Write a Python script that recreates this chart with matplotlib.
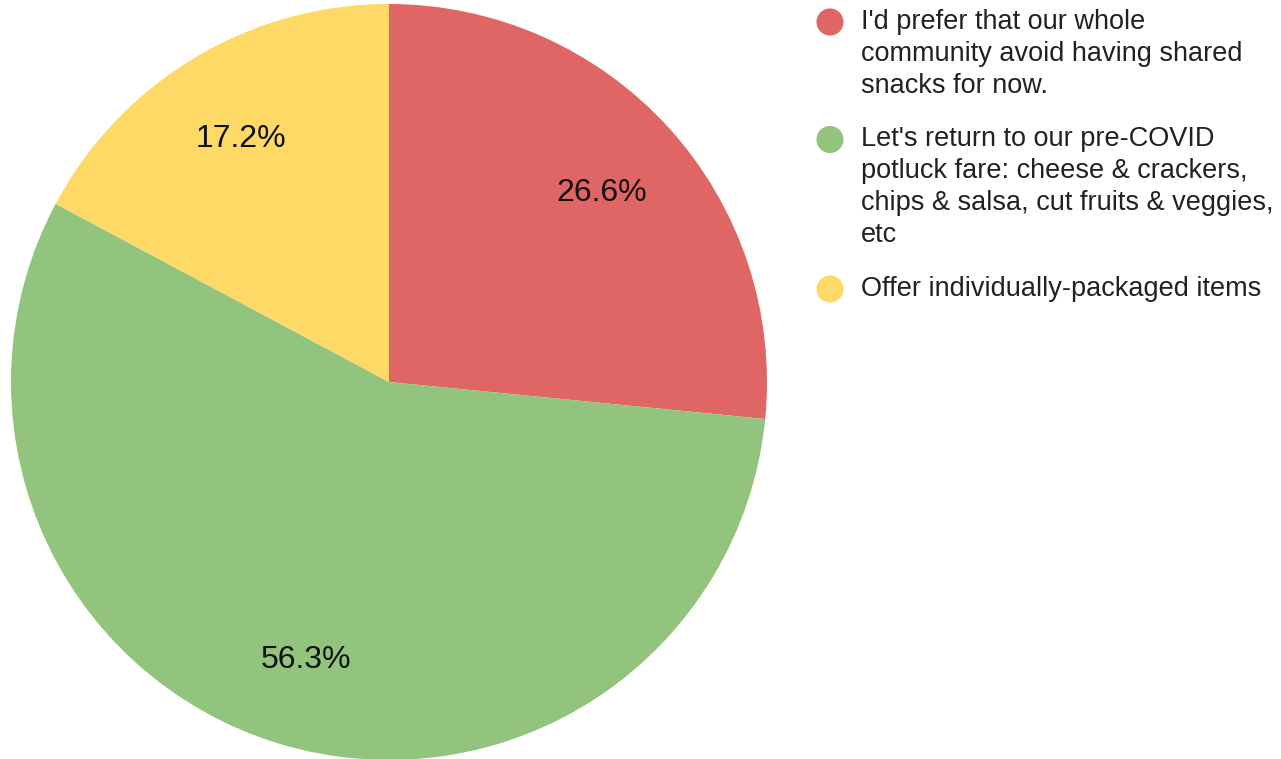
import matplotlib
matplotlib.use('Agg')
import matplotlib.pyplot as plt

plt.rcParams['font.family'] = ['Liberation Sans', 'DejaVu Sans']

labels = ["I'd prefer that our whole\ncommunity avoid having shared\nsnacks for now.",
          "Let's return to our pre-COVID\npotluck fare: cheese & crackers,\nchips & salsa, cut fruits & veggies,\netc",
          "Offer individually-packaged items"]
responses = [17, 36, 11]
colors = ['#E06666', '#93C47D', '#FFD966']

W, H = 1281, 759
fig = plt.figure(figsize=(W / 100, H / 100), dpi=100)

# pie axes: centre ~ (389, 382) px, radius ~ 378 px
cx, cy, r = 389, 382, 378
ax = fig.add_axes([(cx - r) / W, (H - cy - r) / H, 2 * r / W, 2 * r / H])
# round half up like the original (56.25 -> 56.3)
wedges, texts, autotexts = ax.pie(responses, colors=colors, startangle=90, counterclock=False,
                                  autopct=lambda p: '%.1f%%' % (p + 0.01), pctdistance=0.76,
                                  radius=1, wedgeprops=dict(linewidth=0),
                                  textprops=dict(fontsize=23, color='#111111'))
for t in autotexts:
    t.set_va('center_baseline')
ax.set_xlim(-1, 1)
ax.set_ylim(-1, 1)
ax.set_aspect('equal')
ax.axis('off')

# legend drawn by hand in pixel coordinates
lax = fig.add_axes([0, 0, 1, 1])
lax.set_xlim(0, W)
lax.set_ylim(H, 0)
lax.axis('off')
y = 22
for lab, c in zip(labels, colors):
    lines = lab.split('\n')
    lax.scatter([830], [y], s=380, color=c, edgecolor='none')
    for i, line in enumerate(lines):
        lax.text(861, y + i * 32, line, fontsize=19.5, color='#212121', va='center', ha='left')
    y += len(lines) * 32 + 21.5

fig.savefig('out.png', dpi=100)
